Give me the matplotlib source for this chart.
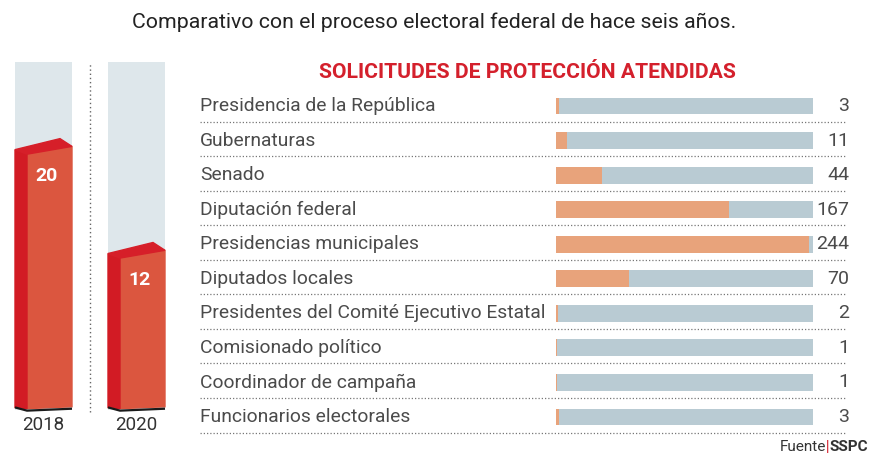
import matplotlib

matplotlib.use("Agg")

import matplotlib.pyplot as plt
from matplotlib.patches import Polygon
from matplotlib.transforms import blended_transform_factory

plt.rcParams["font.family"] = ["Roboto", "DejaVu Sans"]

TITLE = "Comparativo con el proceso electoral federal de hace seis años."
PANEL_TITLE = "SOLICITUDES DE PROTECCIÓN ATENDIDAS"

years = ["2018", "2020"]
year_totals = [20, 12]
year_scale = 26.8

categories = [
    "Presidencia de la República",
    "Gubernaturas",
    "Senado",
    "Diputación federal",
    "Presidencias municipales",
    "Diputados locales",
    "Presidentes del Comité Ejecutivo Estatal",
    "Comisionado político",
    "Coordinador de campaña",
    "Funcionarios electorales",
]
requests = [3, 11, 44, 167, 244, 70, 2, 1, 1, 3]
request_scale = 248

BG = "#dee7eb"
SIDE = "#d21b24"
FACE = "#db563f"
TOP = "#d61f29"
TRACK = "#b9cbd3"
FILL = "#e8a37b"
RED_TXT = "#d4202c"
GRAY_TXT = "#4b4b4b"

W, H = 876, 455
fig = plt.figure(figsize=(W / 100, H / 100), dpi=100)
fig.text(434 / W, 1 - 22 / H, TITLE, ha="center", va="center",
         fontsize=15.3, color="#222222")

# ---- left panel: 3D-ish bars per year
left = fig.add_axes([0, 1 - 410 / H, 180 / W, 348 / H])
left.set_xlim(-43.5 / 93, (180 - 43.5) / 93)
left.set_ylim(0, year_scale)
left.set_axis_off()

bar_w = 57 / 93
side_w = 12 / 93
for i, (year, total) in enumerate(zip(years, year_totals)):
    x0 = i - bar_w / 2
    x1 = i + bar_w / 2
    xs = x0 + side_w
    left.bar(i, year_scale, width=bar_w, color=BG, zorder=1)
    left.add_patch(Polygon([(xs, 0.1), (x1, 0.25), (x1, total + 0.3),
                            (xs, total - 0.3)], closed=True,
                           color=FACE, zorder=2))
    left.add_patch(Polygon([(x0, 0.2), (xs, 0.1), (xs, total - 0.3),
                            (x0, total + 0.05)], closed=True,
                           color=SIDE, zorder=2))
    left.add_patch(Polygon([(x0, total + 0.05), (xs, total - 0.3),
                            (x1, total + 0.3), (x1 - side_w, total + 0.9)],
                           closed=True, color=TOP, zorder=2))
    left.plot([x0, xs, x1], [0.2, -0.05, 0.1], color="#1a1a1a", lw=1.6,
              zorder=3, clip_on=False, solid_capstyle="butt")
    left.text(xs + (x1 - xs) / 2 - 0.03, total - 2.0, str(total), ha="center",
              va="center", color="white", fontsize=14, fontweight="bold",
              zorder=4)
    left.text(i, -1.15, year, ha="center", va="center", fontsize=13.5,
              color="#333333")

left.plot([0.5, 0.5], [-0.15, year_scale], color="#666666", lw=1.0,
          ls=(0, (1, 2)), clip_on=False)

# ---- right panel: horizontal progress bars
n = len(categories)
right = fig.add_axes([556 / W, 1 - 434.3 / H, 257 / W, 345.6 / H])
right.set_xlim(0, request_scale)
right.set_ylim(n - 0.5, -0.5)
right.set_axis_off()

rows = list(range(n))
right.barh(rows, [request_scale] * n, height=0.49, color=TRACK, zorder=1)
right.barh(rows, requests, height=0.49, color=FILL, zorder=2)

fig_y = blended_transform_factory(fig.transFigure, right.transData)
for r, (name, val) in enumerate(zip(categories, requests)):
    right.text(200 / W, r, name, transform=fig_y, ha="left", va="center",
               fontsize=13.9, color=GRAY_TXT)
    right.text(849 / W, r, str(val), transform=fig_y, ha="right",
               va="center", fontsize=14, color=GRAY_TXT)
    right.plot([200 / W, 846 / W], [r + 0.45, r + 0.45], transform=fig_y,
               color="#777777", lw=0.9, ls=(0, (1, 1.6)), clip_on=False)

fig.text(527 / W, 1 - 72 / H, PANEL_TITLE, ha="center", va="center",
         fontsize=15.2, fontweight="bold", color=RED_TXT)

# ---- source
src = fig.text(868 / W, 1 - 447 / H, "SSPC", ha="right", va="center",
               fontsize=11, fontweight="bold", color="#333333")
sep = plt.annotate("|", xy=(0, 0.5), xycoords=src, ha="right", va="center",
                   fontsize=10, fontweight="bold", color=RED_TXT,
                   annotation_clip=False)
plt.annotate("Fuente", xy=(0, 0.5), xycoords=sep, ha="right", va="center",
             fontsize=11, color="#333333", annotation_clip=False)

fig.savefig("out.png", dpi=100)
